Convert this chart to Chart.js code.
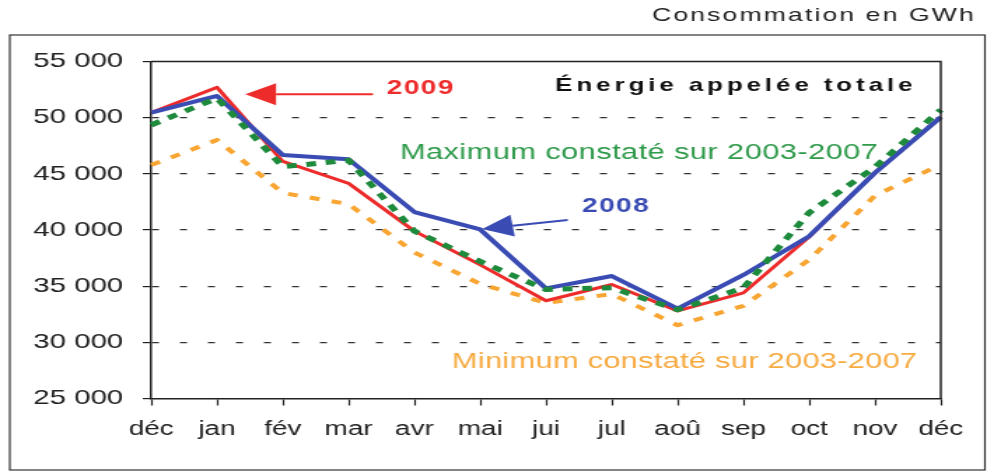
<!DOCTYPE html>
<html>
<head>
<meta charset="utf-8">
<script src="https://cdn.jsdelivr.net/npm/chart.js@4.4.1/dist/chart.umd.min.js"></script>
<style>
  html, body { margin: 0; padding: 0; background: #fff; overflow: hidden; }
  /* the source picture is stretched sideways, so the chart is drawn narrow and widened */
  #wrap { width: 705px; height: 472px; transform: scaleX(1.4); transform-origin: 0 0; }
</style>
</head>
<body>
<div id="wrap"><canvas id="c" width="705" height="472"></canvas></div>
<script>
const months = ['déc', 'jan', 'fév', 'mar', 'avr', 'mai', 'jui', 'jul', 'aoû', 'sep', 'oct', 'nov', 'déc'];
const y2009 = [50450, 52700, 46100, 44150, 39900, 36900, 33700, 35150, 32800, 34400, 39400, 45100, 50050];
const y2008 = [50450, 51930, 46680, 46300, 41600, 40050, 34800, 35900, 33000, 36000, 39450, 45100, 50050];
const maxi = [49350, 51730, 45640, 46200, 39900, 37200, 34700, 34850, 32900, 34850, 41550, 45600, 50700];
const mini = [45790, 48020, 43300, 42300, 38000, 35200, 33500, 34300, 31520, 33250, 37350, 43060, 45830];
const yTicks = [25000, 30000, 35000, 40000, 45000, 50000, 55000];

const FONT = '"Liberation Sans", Arial, sans-serif';
const RED = '#ee2b2b', BLUE = '#3a4cb4', GREEN = '#1e8a3c', ORANGE = '#f8a531';

// annotations, placed in data units (x = month index, y = GWh)
const labels = [
  { text: '2009', x: 3.58, y: 52640, color: RED, font: 'bold 20px ' + FONT, sp: 1 },
  { text: 'Énergie appelée totale', x: 6.14, y: 52820, color: '#111', font: 'bold 18.5px ' + FONT, sp: 2.8 },
  { text: 'Maximum constaté sur 2003-2007', x: 3.78, y: 46860, color: '#2e9a4a', font: '22px ' + FONT, sp: 0.3 },
  { text: '2008', x: 6.55, y: 42050, color: BLUE, font: 'bold 20px ' + FONT, sp: 1 },
  { text: 'Minimum constaté sur 2003-2007', x: 4.57, y: 28270, color: '#f7aa40', font: '22px ' + FONT, sp: 0.2 },
];
const arrows = [
  { from: [3.37, 52080], to: [1.43, 52080], color: RED },
  { from: [6.33, 40900], to: [5.03, 40100], color: BLUE },
];

const decor = {
  id: 'decor',
  beforeDraw(chart) {
    const c = chart.ctx;
    c.save();
    c.fillStyle = '#fff';
    c.fillRect(0, 0, chart.width, chart.height);
    c.strokeStyle = '#333';
    c.lineWidth = 1.2;
    c.strokeRect(7, 35, 696.5, 435);
    c.fillStyle = '#222';
    c.font = '19px ' + FONT;
    c.letterSpacing = '1.5px';
    c.textAlign = 'right';
    c.textBaseline = 'middle';
    c.fillText('Consommation en GWh', 697, 16);
    c.restore();
  },
  afterDatasetsDraw(chart) {
    const c = chart.ctx, xs = chart.scales.x, ys = chart.scales.y, a = chart.chartArea;
    c.save();
    c.strokeStyle = '#222';
    c.lineWidth = 1.5;
    c.beginPath();
    c.moveTo(a.left, a.top); c.lineTo(a.right, a.top); c.lineTo(a.right, a.bottom);
    c.stroke();
    arrows.forEach((ar) => {
      const x1 = xs.getPixelForValue(ar.from[0]), y1 = ys.getPixelForValue(ar.from[1]);
      const x2 = xs.getPixelForValue(ar.to[0]), y2 = ys.getPixelForValue(ar.to[1]);
      const ang = Math.atan2(y2 - y1, x2 - x1), len = 22, half = 11;
      const bx = x2 - Math.cos(ang) * len, by = y2 - Math.sin(ang) * len;
      c.strokeStyle = ar.color; c.fillStyle = ar.color; c.lineWidth = 2;
      c.beginPath(); c.moveTo(x1, y1); c.lineTo(bx, by); c.stroke();
      c.beginPath();
      c.moveTo(x2, y2);
      c.lineTo(bx + Math.sin(ang) * half, by - Math.cos(ang) * half);
      c.lineTo(bx - Math.sin(ang) * half, by + Math.cos(ang) * half);
      c.closePath(); c.fill();
    });
    labels.forEach((l) => {
      c.font = l.font;
      c.fillStyle = l.color;
      c.letterSpacing = l.sp + 'px';
      c.textAlign = 'left';
      c.textBaseline = 'middle';
      c.fillText(l.text, xs.getPixelForValue(l.x), ys.getPixelForValue(l.y));
    });
    c.restore();
  },
};

new Chart(document.getElementById('c'), {
  type: 'line',
  data: {
    labels: months,
    datasets: [
      { label: 'Maximum', data: maxi, borderColor: GREEN, borderWidth: 5, borderDash: [7, 7], order: 1 },
      { label: '2008', data: y2008, borderColor: BLUE, borderWidth: 4, order: 2 },
      { label: '2009', data: y2009, borderColor: RED, borderWidth: 3, order: 3 },
      { label: 'Minimum', data: mini, borderColor: ORANGE, borderWidth: 4, borderDash: [7, 9], order: 4 },
    ],
  },
  options: {
    responsive: false,
    animation: false,
    layout: { padding: { top: 61.5, right: 33, left: 0, bottom: 0 } },
    elements: { point: { radius: 0 }, line: { tension: 0, borderCapStyle: 'butt', borderJoinStyle: 'round', fill: false } },
    plugins: { legend: { display: false }, tooltip: { enabled: false } },
    scales: {
      x: {
        offset: false,
        afterFit: (s) => { s.height = 73.5; },
        grid: { drawOnChartArea: false, tickLength: 7, tickColor: '#222', tickWidth: 1.2 },
        border: { color: '#222', width: 1.5 },
        ticks: { color: '#222', font: { family: FONT, size: 20 }, padding: 12, maxRotation: 0, autoSkip: false },
      },
      y: {
        min: yTicks[0], max: yTicks[yTicks.length - 1],
        afterFit: (s) => { s.width = 108; },
        afterBuildTicks: (s) => { s.ticks = yTicks.map((v) => ({ value: v })); },
        grid: {
          color: (ctx) => (ctx.tick && (ctx.tick.value === 25000 || ctx.tick.value === 55000) ? 'rgba(0,0,0,0)' : '#333'),
          lineWidth: 1.2, tickBorderDash: [], tickColor: '#222', tickLength: 6, tickWidth: 1.2,
        },
        border: { color: '#222', width: 1.5, dash: [5, 15] },
        ticks: {
          color: '#222', font: { family: FONT, size: 21 }, padding: 14,
          callback: (v) => String(v).replace(/\B(?=(\d{3})+(?!\d))/g, ' '),
        },
      },
    },
  },
  plugins: [decor],
});
</script>
</body>
</html>
